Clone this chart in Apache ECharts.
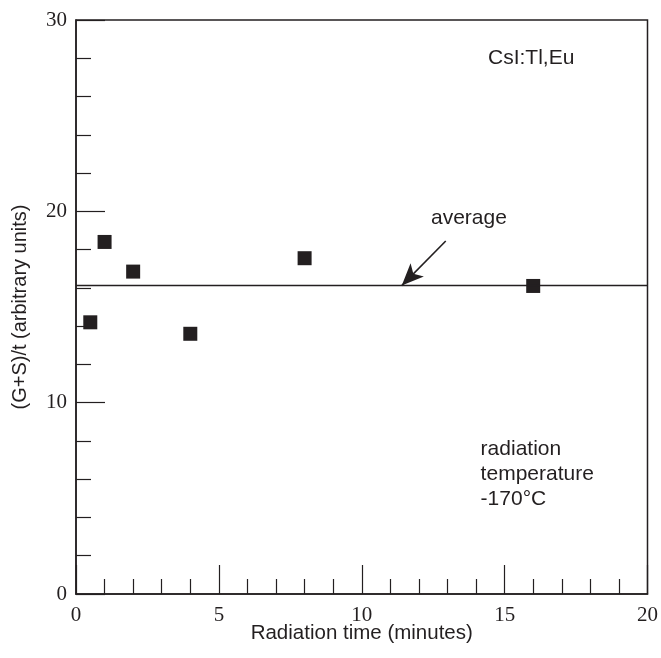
<!DOCTYPE html>
<html>
<head>
<meta charset="utf-8">
<script src="https://cdn.jsdelivr.net/npm/echarts@6/dist/echarts.min.js"></script>
<style>
html,body{margin:0;padding:0;background:#fff;}
#chart{width:661px;height:658px;}
</style>
</head>
<body>
<div id="chart"></div>
<script>
// Data
var radiationTime = [0.5, 1, 2, 4, 8, 16];
var signalPerTime = [14.2, 18.4, 16.85, 13.6, 17.55, 16.1];
var averageValue = 16.12;
var averageRange = [0, 20];
var arrowFrom = [12.94, 18.45];
var arrowTo = [11.4, 16.12];
var xTicks = [0, 5, 10, 15, 20];
var yTicks = [0, 10, 20, 30];
var annotations = [
  {text: 'CsI:Tl,Eu', x: 15.93, y: 28.0, align: 'center'},
  {text: 'average', x: 13.75, y: 19.65, align: 'center'},
  {text: 'radiation\ntemperature\n-170°C', x: 14.16, y: 6.27, align: 'left'}
];

var ink = '#231f20';
var sans = '"Liberation Sans", Arial, Helvetica, sans-serif';
var serif = '"Liberation Serif", "Times New Roman", serif';

var chart = echarts.init(document.getElementById('chart'));
chart.setOption({
  animation: false,
  backgroundColor: '#fff',
  grid: {left: 76, right: 12, top: 20, bottom: 64, show: true, borderColor: ink, borderWidth: 1.5, backgroundColor: 'transparent'},
  xAxis: {
    type: 'value', min: xTicks[0], max: xTicks[xTicks.length - 1], interval: 5,
    name: 'Radiation time (minutes)', nameLocation: 'middle', nameGap: 29,
    nameMoveOverlap: false,
    nameTextStyle: {fontFamily: sans, fontSize: 20.5, color: ink},
    axisLine: {show: true, onZero: false, lineStyle: {color: ink, width: 1.5}},
    axisTick: {show: true, inside: true, length: 29, lineStyle: {color: ink, width: 1.2}},
    minorTick: {show: true, splitNumber: 5, length: 15, lineStyle: {color: ink, width: 1.2}},
    axisLabel: {fontFamily: serif, fontSize: 21, color: ink, margin: 11},
    splitLine: {show: false}
  },
  yAxis: {
    type: 'value', min: yTicks[0], max: yTicks[yTicks.length - 1], interval: 10,
    name: '(G+S)/t (arbitrary units)', nameLocation: 'middle', nameGap: 46,
    nameMoveOverlap: false,
    nameTextStyle: {fontFamily: sans, fontSize: 20, color: ink},
    axisLine: {show: true, onZero: false, lineStyle: {color: ink, width: 1.5}},
    axisTick: {show: true, inside: true, length: 29, lineStyle: {color: ink, width: 1.2}},
    minorTick: {show: true, splitNumber: 5, length: 15, lineStyle: {color: ink, width: 1.2}},
    axisLabel: {fontFamily: serif, fontSize: 21, color: ink, margin: 9},
    splitLine: {show: false}
  },
  series: [
    {
      type: 'line',
      data: averageRange.map(function (x) { return [x, averageValue]; }),
      symbol: 'none',
      lineStyle: {color: ink, width: 1.6},
      silent: true,
      markLine: {
        silent: true,
        symbol: ['none', 'arrow'],
        symbolSize: [14, 22],
        label: {show: false},
        lineStyle: {color: ink, width: 1.6, type: 'solid', opacity: 1},
        data: [[{coord: arrowFrom}, {coord: arrowTo}]]
      }
    },
    {
      type: 'scatter',
      data: radiationTime.map(function (x, i) { return [x, signalPerTime[i]]; }),
      symbol: 'rect',
      symbolSize: 14,
      itemStyle: {color: ink, opacity: 1},
      emphasis: {disabled: true}
    },
    {
      type: 'scatter',
      data: annotations.map(function (a) { return {value: [a.x, a.y], label: {align: a.align}, name: a.text}; }),
      symbolSize: 0,
      silent: true,
      itemStyle: {opacity: 1},
      emphasis: {disabled: true},
      label: {
        show: true, position: 'inside',
        formatter: function (p) { return p.name; },
        fontFamily: sans, fontSize: 21, color: ink, lineHeight: 25,
        verticalAlign: 'middle', opacity: 1
      }
    }
  ]
});
</script>
</body>
</html>
